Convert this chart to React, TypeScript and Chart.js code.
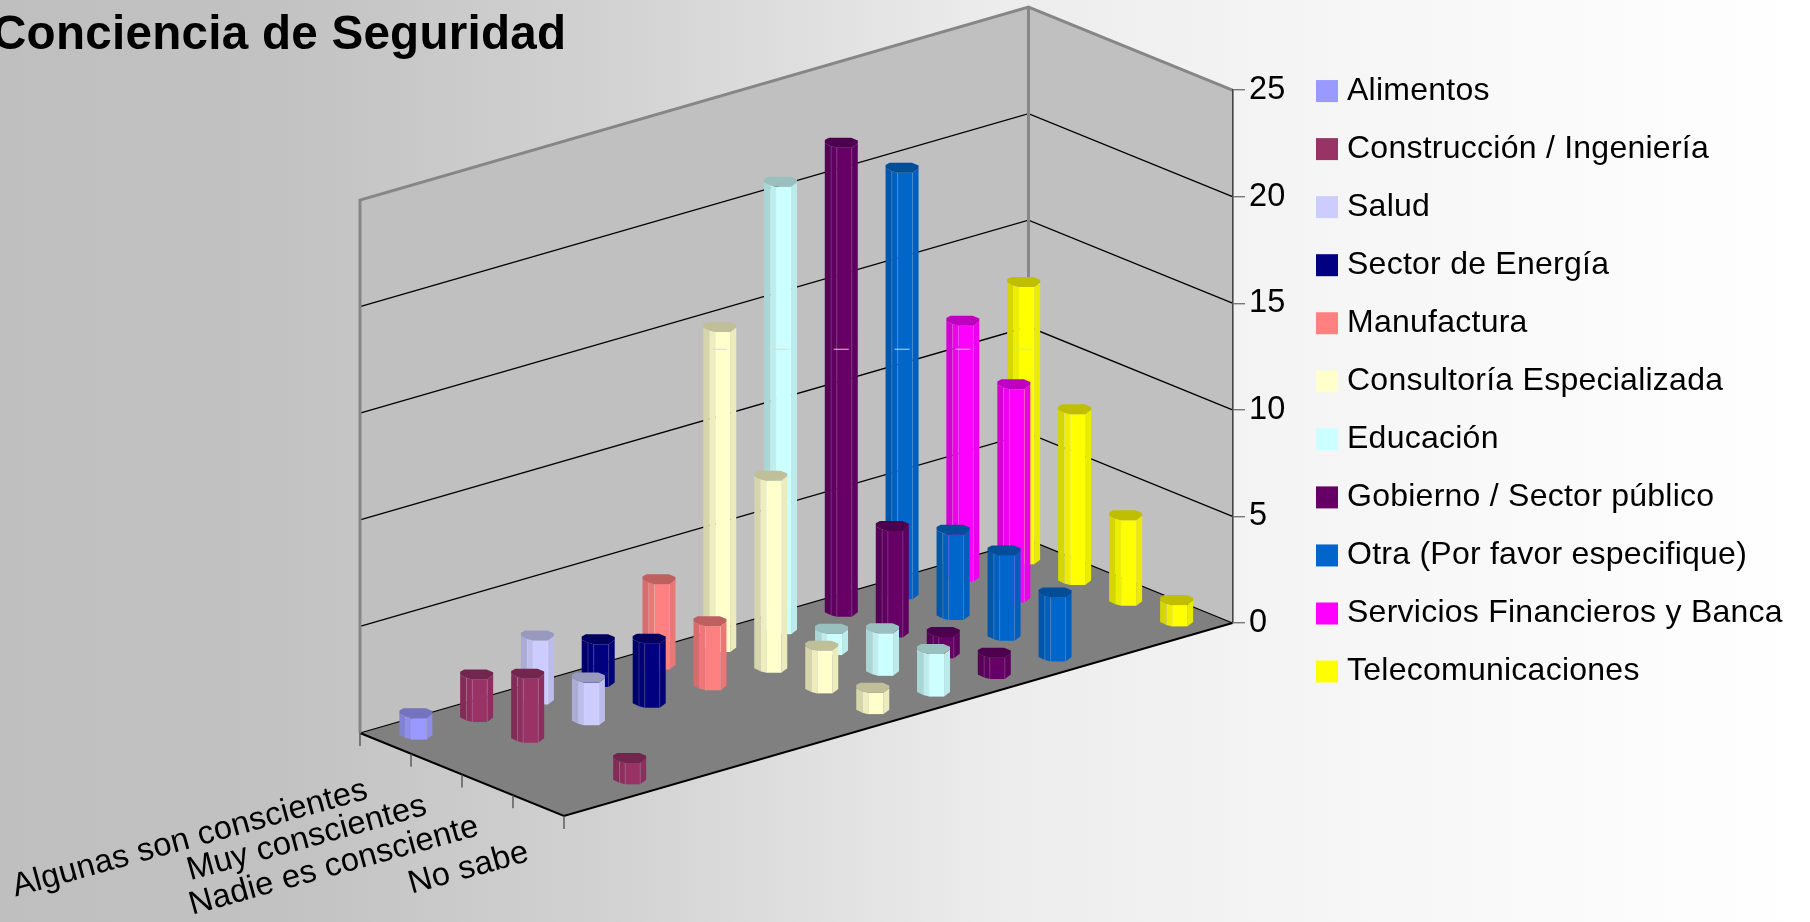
import React, { useEffect, useRef } from "react";
import { Chart, registerables } from "chart.js";

Chart.register(...registerables);

const TITLE = "Conciencia de Seguridad";
const awarenessLevels = ["Algunas son conscientes", "Muy conscientes", "Nadie es consciente", "No sabe"];
const sectorNames = [
  "Alimentos",
  "Construcción / Ingeniería",
  "Salud",
  "Sector de Energía",
  "Manufactura",
  "Consultoría Especializada",
  "Educación",
  "Gobierno / Sector público",
  "Otra (Por favor especifique)",
  "Servicios Financieros y Banca",
  "Telecomunicaciones",
];
const sectorColors = ["#9999FF", "#993366", "#CCCCFF", "#000080", "#FF8080", "#FFFFCC", "#CCFFFF", "#660066", "#0066CC", "#FF00FF", "#FFFF00"];

const alimentos = [1, null, null, null];
const construccion = [2, 3, null, 1];
const salud = [3, 2, null, null];
const energia = [2, 3, null, null];
const manufactura = [4, 3, null, null];
const consultoria = [15, 9, 2, 1];
const educacion = [21, 1, 2, 2];
const gobierno = [22, 5, 1, 1];
const otra = [20, 4, 4, 3];
const servicios = [12, 10, null, null];
const telecom = [13, 8, 4, 1];
const sectorValues = [alimentos, construccion, salud, energia, manufactura, consultoria, educacion, gobierno, otra, servicios, telecom];

const NOTCH_LEVEL = 12.84;
const NOTCH_FIRST_SECTOR = 5;

// Oblique projection of the 3-D box, in pixels
const DEPTH_DX = 204;
const DEPTH_DY = 83;
const FLOOR_RISE = 193;
const HALF_W = 16.5;
const HALF_H = 5;
const CANVAS_SHIFT = 8;
const CANVAS_W = 1818;
const CANVAS_H = 922;
const AREA_LEFT = 572;
const AREA_RIGHT = 1240.5;
const AREA_BOTTOM = 623;
const LEGEND_W = 200;

const FONT = "'Liberation Sans', Arial, sans-serif";

const shade = (hex: string, f: number) => {
  const n = parseInt(hex.slice(1), 16);
  const c = [(n >> 16) & 255, (n >> 8) & 255, n & 255].map((v) => Math.round(v * f));
  return `rgb(${c[0]},${c[1]},${c[2]})`;
};

const project = (chart: any, i: number, j: number, v: number) => {
  const { x: depth, series, y } = chart.scales;
  const sx = series.getPixelForValue(i);
  const t = (depth.getPixelForValue(j) - depth.left) / depth.width;
  const slope = -FLOOR_RISE / series.width;
  return {
    x: sx + DEPTH_DX * (t - 1),
    y: y.getPixelForValue(v) + slope * (sx - series.right) + DEPTH_DY * (t - 1),
  };
};

const poly = (ctx: any, pts: number[][], fill: string) => {
  ctx.beginPath();
  pts.forEach((p, k) => (k ? ctx.lineTo(p[0], p[1]) : ctx.moveTo(p[0], p[1])));
  ctx.closePath();
  ctx.fillStyle = fill;
  ctx.fill();
};

const segs = (ctx: any, pts: number[][], color: string, width: number) => {
  ctx.beginPath();
  pts.forEach((p, k) => (k ? ctx.lineTo(p[0], p[1]) : ctx.moveTo(p[0], p[1])));
  ctx.strokeStyle = color;
  ctx.lineWidth = width;
  ctx.stroke();
};

const LOWER = [[-1, 0.1], [-0.62, 0.7], [-0.27, 1], [0.64, 1], [1, 0.1]];
const UPPER = [[1, -0.45], [0.6, -1], [-0.75, -1], [-1, -0.55]];
const FACETS = [0.84, 0.93, 1, 0.92];

const drawColumn = (ctx: any, base: any, top: any, color: string) => {
  for (let k = 0; k < FACETS.length; k++) {
    const a = LOWER[k];
    const b = LOWER[k + 1];
    poly(ctx, [
      [base.x + a[0] * HALF_W, top.y + a[1] * HALF_H],
      [base.x + b[0] * HALF_W, top.y + b[1] * HALF_H],
      [base.x + b[0] * HALF_W, base.y + b[1] * HALF_H],
      [base.x + a[0] * HALF_W, base.y + a[1] * HALF_H],
    ], shade(color, FACETS[k]));
  }
  for (let k = 1; k < LOWER.length - 1; k++) {
    const a = LOWER[k];
    segs(ctx, [
      [base.x + a[0] * HALF_W, top.y + a[1] * HALF_H],
      [base.x + a[0] * HALF_W, base.y + a[1] * HALF_H],
    ], "rgba(255,255,255,0.16)", 1);
  }
  poly(ctx, [...LOWER, ...UPPER].map((p) => [base.x + p[0] * HALF_W, top.y + p[1] * HALF_H]), shade(color, 0.75));
};

const boxPlugin = {
  id: "box3d",
  afterLayout(chart: any) {
    chart.legend.left = 1304.95;
    chart.legend.top = 49;
  },
  beforeDraw(chart: any) {
    const { ctx, width, height } = chart;
    const { series, y } = chart.scales;
    ctx.letterSpacing = "0.25px";
    const g = ctx.createLinearGradient(0, 0, width, 0);
    g.addColorStop(0, "#bfbfbf");
    g.addColorStop(0.16, "#c2c2c2");
    g.addColorStop(0.34, "#d2d2d2");
    g.addColorStop(0.55, "#ececec");
    g.addColorStop(0.75, "#f6f6f6");
    g.addColorStop(1, "#ffffff");
    ctx.save();
    ctx.fillStyle = g;
    ctx.fillRect(0, 0, width, height);

    const R = series.right;
    const L = series.left;
    const y0 = y.getPixelForValue(0);
    const yT = y.getPixelForValue(25);
    const backR = R - DEPTH_DX;
    const backL = L - DEPTH_DX;
    const dropL = FLOOR_RISE - DEPTH_DY;
    const dropR = -DEPTH_DY;

    poly(ctx, [[backL, yT + dropL], [backR, yT + dropR], [backR, y0 + dropR], [backL, y0 + dropL]], "#c0c0c0");
    poly(ctx, [[backR, yT + dropR], [R, yT], [R, y0], [backR, y0 + dropR]], "#c0c0c0");
    poly(ctx, [[backL, y0 + dropL], [backR, y0 + dropR], [R, y0], [L, y0 + FLOOR_RISE]], "#808080");

    y.ticks.forEach((t: any) => {
      if (t.value === 25) return;
      const py = y.getPixelForValue(t.value);
      segs(ctx, [[backL, py + dropL], [backR, py + dropR], [R, py]], "#000", 1.3);
    });
    segs(ctx, [[backL, y0 + dropL], [L, y0 + FLOOR_RISE], [R, y0]], "#000", 2);
    segs(ctx, [[backL, y0 + dropL], [backL, yT + dropL], [backR, yT + dropR], [R, yT]], "#868686", 3);
    segs(ctx, [[backR, yT + dropR], [backR, y0 + dropR]], "#868686", 3);

    for (let k = 0; k <= awarenessLevels.length; k++) {
      const f = k / awarenessLevels.length;
      const tx = backL + DEPTH_DX * f;
      const ty = y0 + dropL + DEPTH_DY * f;
      segs(ctx, [[tx, ty], [tx, ty + 13]], "#555", 1.4);
    }

    ctx.fillStyle = "#000";
    ctx.font = `32.7px ${FONT}`;
    ctx.textAlign = "right";
    ctx.textBaseline = "alphabetic";
    const nudges = [[-16, 55], [-8, 50], [-7, 50], [-8, 55]];
    chart.data.labels.forEach((label: string, j: number) => {
      const f = (j + 0.5) / awarenessLevels.length;
      const ax = backL + DEPTH_DX * f + nudges[j][0];
      const ay = y0 + dropL + DEPTH_DY * f + nudges[j][1];
      ctx.save();
      ctx.translate(ax, ay);
      ctx.rotate((-15.5 * Math.PI) / 180);
      ctx.fillText(label, 0, 0);
      ctx.restore();
    });
    ctx.restore();
  },
  beforeDatasetsDraw(chart: any) {
    const { ctx } = chart;
    ctx.save();
    const { datasets } = chart.data;
    for (let j = 0; j < awarenessLevels.length; j++) {
      for (let i = datasets.length - 1; i >= 0; i--) {
        const v = datasets[i].data[j];
        if (v === null || v === undefined) continue;
        drawColumn(ctx, project(chart, i, j, 0), project(chart, i, j, v), datasets[i].backgroundColor);
      }
    }
    const ny = chart.scales.y.getPixelForValue(NOTCH_LEVEL);
    for (let i = NOTCH_FIRST_SECTOR; i < datasets.length; i++) {
      const c = project(chart, i, 0, 0);
      segs(ctx, [[c.x - 7.5, ny], [c.x + 7.5, ny]], "rgba(215,215,215,0.95)", 1);
    }
    ctx.restore();
    return false;
  },
};

export default function App() {
  const ref = useRef<HTMLCanvasElement>(null);
  useEffect(() => {
    document.body.style.margin = "0";
    document.body.style.overflow = "hidden";
    const chart = new Chart(ref.current as any, {
      type: "bar",
      plugins: [boxPlugin],
      data: {
        labels: awarenessLevels,
        datasets: sectorNames.map((name, i) => ({
          label: name,
          data: sectorValues[i],
          backgroundColor: sectorColors[i],
          borderWidth: 0,
        })),
      },
      options: {
        animation: false,
        responsive: false,
        events: [],
        layout: { padding: 0 },
        plugins: {
          tooltip: { enabled: false },
          title: {
            display: true,
            text: TITLE,
            align: "start",
            color: "#000",
            font: { family: FONT, size: 47.6, weight: "bold" },
            padding: { top: 7.5, bottom: 25.4 },
          },
          legend: {
            position: "right",
            align: "start",
            maxWidth: LEGEND_W,
            labels: {
              usePointStyle: true,
              pointStyle: "rect",
              boxWidth: 8,
              boxHeight: 22,
              padding: 26.05,
              color: "#000",
              font: { family: FONT, size: 32 },
            },
          },
        },
        scales: {
          x: {
            type: "category",
            position: "bottom",
            grid: { display: false },
            border: { display: false },
            ticks: { display: false },
            afterFit: (s: any) => {
              s.height = CANVAS_H - AREA_BOTTOM;
            },
          },
          series: {
            type: "category",
            axis: "x",
            position: "bottom",
            labels: sectorNames,
            offset: true,
            display: false,
          },
          spacer: {
            type: "linear",
            axis: "y",
            position: "left",
            grid: { display: false },
            border: { display: false },
            ticks: { display: false },
            afterFit: (s: any) => {
              s.width = AREA_LEFT;
            },
          },
          y: {
            type: "linear",
            position: "right",
            min: 0,
            max: 25,
            ticks: { stepSize: 5, color: "#000", padding: 4, font: { family: FONT, size: 32.5 } },
            grid: { drawOnChartArea: false, drawTicks: true, tickLength: 12.5, color: "#777", lineWidth: 1.4 },
            border: { display: true, color: "#444", width: 1.6 },
            afterFit: (s: any) => {
              s.width = CANVAS_W - AREA_RIGHT - LEGEND_W;
            },
          },
        },
      } as any,
    } as any);
    return () => chart.destroy();
  }, []);
  return (
    <canvas
      ref={ref}
      width={CANVAS_W}
      height={CANVAS_H}
      style={{ position: "absolute", left: -CANVAS_SHIFT, top: 0, display: "block" }}
    />
  );
}
